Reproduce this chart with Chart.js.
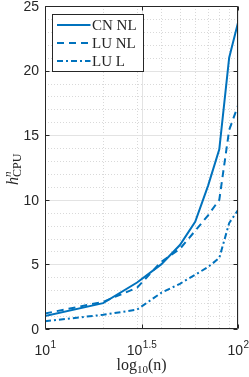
<!DOCTYPE html>
<html>
<head>
<meta charset="utf-8">
<script src="https://cdn.jsdelivr.net/npm/chart.js@4/dist/chart.umd.min.js"></script>
<style>
  html, body { margin: 0; padding: 0; background: #fff; }
  #wrap { width: 249px; height: 377px; }
</style>
</head>
<body>
<div id="wrap"><canvas id="c" width="249" height="377"></canvas></div>
<script>
// problem size n and CPU ratio per method
const nValues = [10, 20, 30, 40, 50, 60, 70, 80, 90, 100];
const cnNL = [1.0, 2.0, 3.6, 5.0, 6.5, 8.3, 11.1, 13.9, 21.0, 23.7];
const luNL = [1.2, 2.1, 3.2, 5.2, 6.2, 7.6, 8.8, 10.0, 15.4, 17.3];
const luL = [0.6, 1.1, 1.5, 2.8, 3.5, 4.2, 4.8, 5.5, 8.2, 9.2];

const seriesNames = ['CN NL', 'LU NL', 'LU L'];
const xTicks = [1, 1.5, 2];          // exponents of 10
const yTicks = [0, 5, 10, 15, 20, 25];

const BLUE = '#0072BD';
const AXIS = '#262626';
const SERIF = '"Liberation Serif", "DejaVu Serif", serif';
const SANS = '"Liberation Sans", Arial, sans-serif';

function toPoints(vals) {
  return nValues.map((n, i) => ({ x: n, y: vals[i] }));
}

// grid, box, ticks and labels drawn MATLAB style
const axesPlugin = {
  id: 'matlabAxes',
  beforeDatasetsDraw(chart) {
    const { ctx, chartArea: a, scales: { x, y } } = chart;
    ctx.save();
    // minor grid
    ctx.strokeStyle = '#d9d9d9';
    ctx.lineWidth = 1;
    ctx.setLineDash([1, 2]);
    ctx.beginPath();
    for (let n = 20; n < 100; n += 10) {
      const px = Math.round(x.getPixelForValue(n)) + 0.5;
      ctx.moveTo(px, a.top); ctx.lineTo(px, a.bottom);
    }
    for (let v = 1; v < 25; v++) {
      if (v % 5 === 0) continue;
      const py = Math.round(y.getPixelForValue(v)) + 0.5;
      ctx.moveTo(a.left, py); ctx.lineTo(a.right, py);
    }
    ctx.stroke();
    // major grid
    ctx.setLineDash([]);
    ctx.strokeStyle = '#e3e3e3';
    ctx.beginPath();
    xTicks.forEach(e => {
      const px = Math.round(x.getPixelForValue(Math.pow(10, e))) + 0.5;
      ctx.moveTo(px, a.top); ctx.lineTo(px, a.bottom);
    });
    yTicks.forEach(v => {
      const py = Math.round(y.getPixelForValue(v)) + 0.5;
      ctx.moveTo(a.left, py); ctx.lineTo(a.right, py);
    });
    ctx.stroke();
    ctx.restore();
  },
  afterDatasetsDraw(chart) {
    const { ctx, chartArea: a, scales: { x, y } } = chart;
    ctx.save();
    ctx.strokeStyle = AXIS;
    ctx.lineWidth = 1;
    ctx.beginPath();
    const L = Math.round(a.left) + 0.5, R = Math.round(a.right) - 0.5;
    const T = Math.round(a.top) + 0.5, B = Math.round(a.bottom) - 0.5;
    ctx.rect(L, T, R - L, B - T);
    // inward ticks
    xTicks.forEach(e => {
      const px = Math.round(x.getPixelForValue(Math.pow(10, e))) + 0.5;
      ctx.moveTo(px, B); ctx.lineTo(px, B - 4);
      ctx.moveTo(px, T); ctx.lineTo(px, T + 4);
    });
    yTicks.forEach(v => {
      const py = Math.round(y.getPixelForValue(v)) + 0.5;
      ctx.moveTo(L, py); ctx.lineTo(L + 4, py);
      ctx.moveTo(R, py); ctx.lineTo(R - 4, py);
    });
    ctx.stroke();

    // y tick labels
    ctx.fillStyle = AXIS;
    ctx.font = '14px ' + SANS;
    ctx.textAlign = 'right';
    ctx.textBaseline = 'middle';
    yTicks.forEach(v => ctx.fillText(String(v), a.left - 6, y.getPixelForValue(v) + 1));

    // x tick labels: 10^e
    ctx.textBaseline = 'alphabetic';
    ctx.textAlign = 'left';
    xTicks.forEach(e => {
      ctx.font = '14px ' + SANS;
      const base = '10';
      const bw = ctx.measureText(base).width;
      ctx.font = '10px ' + SANS;
      const sup = String(e);
      const sw = ctx.measureText(sup).width;
      const cx = x.getPixelForValue(Math.pow(10, e));
      const x0 = cx - (bw + sw) / 2;
      ctx.font = '14px ' + SANS;
      ctx.fillText(base, x0, a.bottom + 26);
      ctx.font = '10px ' + SANS;
      ctx.fillText(sup, x0 + bw + 0.5, a.bottom + 19);
    });

    // x title: log10(n)
    const parts = [['log', 16, 0], ['10', 11, 3], ['(n)', 16, 0]];
    let tw = 0;
    parts.forEach(p => { ctx.font = p[1] + 'px ' + SERIF; tw += ctx.measureText(p[0]).width; });
    let tx = (a.left + a.right) / 2 - tw / 2;
    parts.forEach(p => {
      ctx.font = p[1] + 'px ' + SERIF;
      ctx.fillText(p[0], tx, a.bottom + 41 + p[2]);
      tx += ctx.measureText(p[0]).width;
    });

    // y title: h^n_CPU rotated
    ctx.save();
    ctx.translate(18, 185);
    ctx.rotate(-Math.PI / 2);
    ctx.font = 'italic 16px ' + SERIF;
    ctx.fillText('h', 0, 0);
    const hw = ctx.measureText('h').width;
    ctx.font = 'italic 11px ' + SERIF;
    ctx.fillText('n', hw, -7);
    ctx.font = '12px ' + SERIF;
    ctx.fillText('CPU', hw, 3);
    ctx.restore();

    // legend inside the axes
    const lx = 52.5, ly = 14.5, lw = 91, lh = 57;
    ctx.fillStyle = '#fff';
    ctx.fillRect(lx, ly, lw, lh);
    ctx.strokeStyle = AXIS;
    ctx.lineWidth = 1;
    ctx.strokeRect(lx, ly, lw, lh);
    chart.data.datasets.forEach((ds, i) => {
      const yy = ly + 10.5 + i * 18;
      ctx.strokeStyle = ds.borderColor;
      ctx.lineWidth = ds.borderWidth;
      ctx.setLineDash(ds.borderDash || []);
      ctx.beginPath();
      ctx.moveTo(lx + 4.5, yy);
      ctx.lineTo(lx + 38, yy);
      ctx.stroke();
      ctx.setLineDash([]);
      ctx.fillStyle = AXIS;
      ctx.font = '15px ' + SERIF;
      ctx.textBaseline = 'middle';
      ctx.fillText(ds.label, lx + 39.5, yy + 1);
    });
    ctx.restore();
  }
};

new Chart(document.getElementById('c'), {
  type: 'line',
  data: {
    datasets: [
      { label: seriesNames[0], data: toPoints(cnNL), borderColor: BLUE, borderWidth: 2, borderDash: [] },
      { label: seriesNames[1], data: toPoints(luNL), borderColor: BLUE, borderWidth: 2, borderDash: [7, 5] },
      { label: seriesNames[2], data: toPoints(luL), borderColor: BLUE, borderWidth: 2, borderDash: [6, 3, 2, 3] }
    ]
  },
  options: {
    responsive: false,
    animation: false,
    devicePixelRatio: 1,
    layout: { padding: { left: 45, right: 11, top: 6, bottom: 48 } },
    elements: { point: { radius: 0 }, line: { tension: 0, fill: false } },
    plugins: { legend: { display: false }, tooltip: { enabled: false } },
    scales: {
      x: {
        type: 'logarithmic', min: 10, max: 100,
        grid: { display: false, drawTicks: false },
        border: { display: false },
        ticks: { display: false }
      },
      y: {
        type: 'linear', min: 0, max: 25,
        grid: { display: false, drawTicks: false },
        border: { display: false },
        ticks: { display: false }
      }
    }
  },
  plugins: [axesPlugin]
});
</script>
</body>
</html>
